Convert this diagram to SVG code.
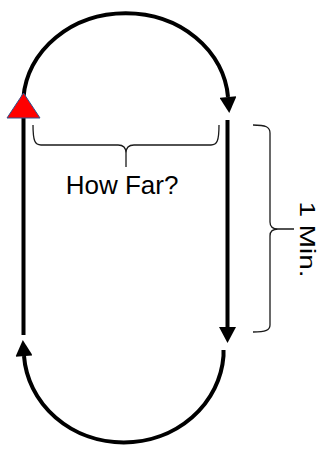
<svg xmlns="http://www.w3.org/2000/svg" width="322" height="453" viewBox="0 0 322 453">
  <style>
    .flow { fill: none; stroke: #000; stroke-width: 4; }
    .brace { fill: none; stroke: #1a1a1a; stroke-width: 1.3; }
    .label { font-family: "Liberation Sans", Arial, sans-serif; fill: #000; }
  </style>
  <defs>
    <marker id="arrow" markerUnits="userSpaceOnUse" markerWidth="17" markerHeight="17" refX="0" refY="8.5" orient="auto" viewBox="0 0 16 17">
      <path d="M0,0 L16,8.5 L0,17 Z" fill="#000"/>
    </marker>
  </defs>
  <rect width="322" height="453" fill="#fff"/>
  <g id="connectors">
    <path class="flow" d="M23.5,110 L23.5,97 A102.5,90 0 0 1 228,97" marker-end="url(#arrow)"/>
    <path class="flow" d="M227.5,120 L227.5,327" marker-end="url(#arrow)"/>
    <path class="flow" d="M223.5,350 L223.5,356 A100,93 0 0 1 24,356" marker-end="url(#arrow)"/>
    <path class="flow" d="M23.5,118 L23.5,335"/>
  </g>
  <g id="start-marker">
    <polygon points="23.5,93 7,118 40,118" fill="#ff0000" stroke="#2f528f" stroke-width="1"/>
  </g>
  <g id="how-far">
    <path class="brace" d="M33,125 C33,141 35,145 41,145 L118,145 C123,145 126,147 126,153 L126,167 M126,153 C126,147 129,145 134,145 L211,145 C217,145 219,141 219,125"/>
    <text class="label" x="122" y="194" font-size="26" text-anchor="middle">How Far?</text>
  </g>
  <g id="one-min">
    <path class="brace" d="M253,125 C266,125 270,127 270,133 L270,222 C270,226 272,229 278,229 L294,229 M278,229 C272,229 270,232 270,236 L270,325 C270,330 266,332 253,332"/>
    <text class="label" transform="translate(300,239.5) rotate(90)" x="0" y="0" font-size="22" text-anchor="middle" textLength="76" lengthAdjust="spacingAndGlyphs">1 Min.</text>
  </g>
</svg>
